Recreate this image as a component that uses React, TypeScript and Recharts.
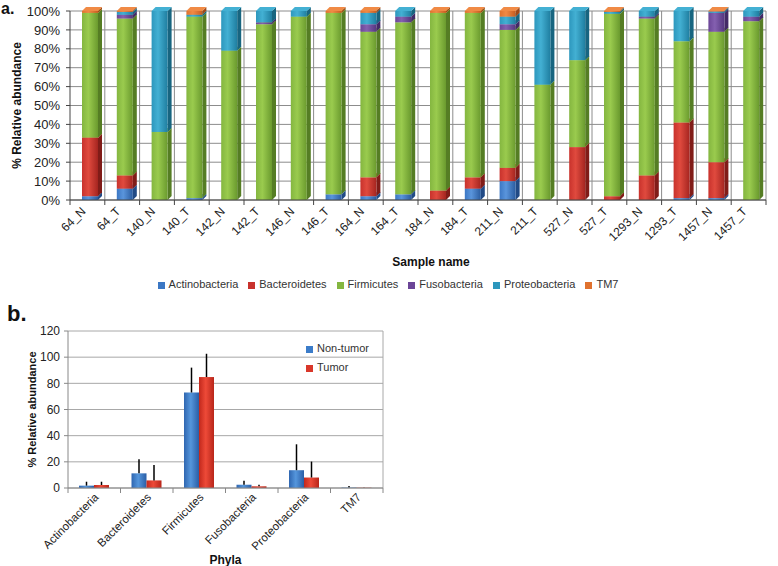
import React from "react";
import {
  Bar,
  BarChart,
  CartesianGrid,
  ErrorBar,
  Legend,
  XAxis,
  YAxis,
} from "recharts";

// ---- panel a: per-sample relative abundance (%) ----
const samples = [
  "64_N", "64_T", "140_N", "140_T", "142_N", "142_T", "146_N", "146_T", "164_N", "164_T",
  "184_N", "184_T", "211_N", "211_T", "527_N", "527_T", "1293_N", "1293_T", "1457_N", "1457_T",
];
const actinobacteria = [2, 6, 0, 1, 0, 0, 0, 3, 2, 3, 0, 6, 10, 0, 0, 0, 0, 1, 1, 0];
const bacteroidetes = [31, 7, 0, 0, 0, 0, 0, 0, 10, 0, 5, 6, 7, 0, 28, 2, 13, 40, 19, 0];
const firmicutes = [66, 83, 36, 96, 79, 93, 97, 96, 77, 91, 94, 87, 73, 61, 46, 96.5, 83, 43, 69, 94.6];
const fusobacteria = [0, 2, 0, 0, 0, 1, 0, 0, 4, 3, 0, 0, 3, 0, 0, 0, 1, 0, 10, 2.4];
const proteobacteria = [0, 1.5, 64, 1, 21, 6, 3, 0, 6, 3, 0, 0, 4, 39, 26, 1, 3, 16, 0.7, 3];
const tm7 = [1, 0.5, 0, 2, 0, 0, 0, 1, 1, 0, 1, 1, 3, 0, 0, 0.5, 0, 0, 0.3, 0];
const percentTicks = [0, 10, 20, 30, 40, 50, 60, 70, 80, 90, 100];

// ---- panel b: mean abundance by phylum ----
const phyla = ["Actinobacteria", "Bacteroidetes", "Firmicutes", "Fusobacteria", "Proteobacteria", "TM7"];
const nonTumorMean = [1.8, 11.2, 73, 2.5, 13.6, 0.3];
const tumorMean = [2.3, 5.8, 84.8, 1.3, 8, 0.2];
const nonTumorSd = [3, 10.8, 19, 3, 19.8, 1.2];
const tumorSd = [2.5, 11.7, 17.8, 1.2, 12.2, 0.2];
const abundanceTicks = [0, 20, 40, 60, 80, 100, 120];

const FONT = "'Liberation Sans', Arial, sans-serif";

const series = [
  { key: "Actinobacteria", values: actinobacteria, base: "#3b77c4", light: "#5a95dc", dark: "#2a5ca0", side: "#214a85" },
  { key: "Bacteroidetes", values: bacteroidetes, base: "#c8322c", light: "#e04a3e", dark: "#a52520", side: "#801c18" },
  { key: "Firmicutes", values: firmicutes, base: "#84b640", light: "#9acb4e", dark: "#6a9a2e", side: "#557d24" },
  { key: "Fusobacteria", values: fusobacteria, base: "#6b4597", light: "#8460b0", dark: "#553680", side: "#432a66" },
  { key: "Proteobacteria", values: proteobacteria, base: "#2d97bd", light: "#43b0d3", dark: "#1f7ea0", side: "#186580" },
  { key: "TM7", values: tm7, base: "#e0722e", light: "#f08a45", dark: "#c85c20", side: "#a04818" },
];

const stackData = samples.map((name, i) => {
  const row: Record<string, number | string> = { name };
  series.forEach((s) => (row[s.key] = s.values[i]));
  return row;
});

const phylaData = phyla.map((name, i) => ({
  name,
  nonTumor: nonTumorMean[i],
  tumor: tumorMean[i],
  nonTumorErr: [0, nonTumorSd[i]],
  tumorErr: [0, tumorSd[i]],
}));

// layout of panel a
const A_W = 778;
const A_H = 300;
const A_MARGIN = { top: 11, right: 12, left: 8, bottom: 0 };
const A_YW = 62;
const A_BAND = (A_W - A_MARGIN.left - A_MARGIN.right - A_YW) / samples.length;

// layout of panel b
const B_W = 400;
const B_H = 266;
const B_MARGIN = { top: 31, right: 17, left: 8, bottom: 0 };
const B_YW = 60;
const B_BAND = (B_W - B_MARGIN.left - B_MARGIN.right - B_YW) / phyla.length;

const DEPTH = 4;

function Bar3D(props: any) {
  const { x, y, width, height, gradId, side, light } = props;
  if (!height || height <= 0.01) return null;
  const x0 = x + 3;
  return (
    <g>
      <polygon
        points={`${x0 + width},${y} ${x0 + width + DEPTH},${y - DEPTH} ${x0 + width + DEPTH},${y + height - DEPTH} ${x0 + width},${y + height}`}
        fill={side}
      />
      <polygon
        points={`${x0},${y} ${x0 + DEPTH},${y - DEPTH} ${x0 + width + DEPTH},${y - DEPTH} ${x0 + width},${y}`}
        fill={light}
      />
      <rect x={x0} y={y} width={width} height={height} fill={`url(#${gradId})`} />
    </g>
  );
}

function SampleTick(props: any) {
  const { x, y, payload, index } = props;
  const last = index === samples.length - 1;
  return (
    <g>
      <line x1={x - A_BAND / 2} x2={x - A_BAND / 2} y1={y} y2={y + 5} stroke="#444" />
      {last && <line x1={x + A_BAND / 2} x2={x + A_BAND / 2} y1={y} y2={y + 5} stroke="#444" />}
      <text
        transform={`translate(${x - 1},${y + 12}) rotate(-45)`}
        textAnchor="end"
        fontSize={12}
        fill="#222"
        fontFamily={FONT}
      >
        {payload.value}
      </text>
    </g>
  );
}

function PhylumTick(props: any) {
  const { x, y, payload, index } = props;
  const last = index === phyla.length - 1;
  return (
    <g>
      <line x1={x - B_BAND / 2} x2={x - B_BAND / 2} y1={y} y2={y + 5} stroke="#888" />
      {last && <line x1={x + B_BAND / 2} x2={x + B_BAND / 2} y1={y} y2={y + 5} stroke="#888" />}
      <text
        transform={`translate(${x + 5},${y + 10}) rotate(-45)`}
        textAnchor="end"
        fontSize={11.5}
        fill="#222"
        fontFamily={FONT}
      >
        {payload.value}
      </text>
    </g>
  );
}

function FlatBar(props: any) {
  const { x, y, width, height, gradId } = props;
  if (!height || height <= 0) return null;
  return <rect x={x} y={y} width={width} height={height} fill={`url(#${gradId})`} />;
}

const legendText = (value: string) => <span style={{ color: "#333" }}>{value}</span>;

export default function App() {
  return (
    <div style={{ position: "absolute", left: 0, top: 0, width: 778, height: 566, background: "#fff", fontFamily: FONT }}>
      <div style={{ position: "absolute", left: 1, top: 1, fontSize: 16, lineHeight: "16px", fontWeight: "bold", color: "#111" }}>a.</div>
      <div style={{ position: "absolute", left: 0, top: 0 }}>
        <BarChart width={A_W} height={A_H} data={stackData} margin={A_MARGIN} barSize={16}>
          <defs>
            {series.map((s) => (
              <linearGradient key={s.key} id={`ga-${s.key}`} x1="0" y1="0" x2="1" y2="0">
                <stop offset="0%" stopColor={s.base} />
                <stop offset="40%" stopColor={s.light} />
                <stop offset="100%" stopColor={s.dark} />
              </linearGradient>
            ))}
          </defs>
          <CartesianGrid
            stroke="#8c8c8c"
            verticalCoordinatesGenerator={({ offset }: any) =>
              samples.map((_, i) => offset.left + (i + 1) * (offset.width / samples.length))
            }
          />
          <XAxis
            dataKey="name"
            interval={0}
            height={A_H - 200}
            tickLine={false}
            tickSize={0}
            tickMargin={0}
            axisLine={{ stroke: "#444" }}
            tick={<SampleTick />}
            label={{
              content: ({ viewBox }: any) => (
                <text
                  x={viewBox.x + viewBox.width / 2 + 13}
                  y={266}
                  textAnchor="middle"
                  fontSize={12}
                  fontWeight="bold"
                  fill="#111"
                  fontFamily={FONT}
                >
                  Sample name
                </text>
              ),
            }}
          />
          <YAxis
            width={A_YW}
            domain={[0, 100]}
            ticks={percentTicks}
            interval={0}
            tickFormatter={(v: number) => `${v}%`}
            tick={{ fontSize: 13, fill: "#222", fontFamily: FONT }}
            tickSize={4}
            tickMargin={6}
            axisLine={{ stroke: "#444" }}
            tickLine={{ stroke: "#444" }}
            label={{
              content: ({ viewBox }: any) => (
                <text
                  transform={`translate(21,${viewBox.y + viewBox.height / 2}) rotate(-90)`}
                  textAnchor="middle"
                  fontSize={12}
                  fontWeight="bold"
                  fill="#111"
                  fontFamily={FONT}
                >
                  % Relative abundance
                </text>
              ),
            }}
          />
          <Legend
            layout="horizontal"
            verticalAlign="middle"
            align="center"
            iconType="square"
            iconSize={7}
            formatter={legendText}
            wrapperStyle={{ top: 278, left: 4, width: A_W, fontSize: 11, fontFamily: FONT }}
          />
          {series.map((s) => (
            <Bar
              key={s.key}
              dataKey={s.key}
              stackId="a"
              fill={s.base}
              isAnimationActive={false}
              shape={(p: any) => <Bar3D {...p} gradId={`ga-${s.key}`} side={s.side} light={s.light} />}
            />
          ))}
        </BarChart>
      </div>

      <div style={{ position: "absolute", left: 7, top: 301, fontSize: 22, fontWeight: "bold", color: "#111" }}>b.</div>
      <div style={{ position: "absolute", left: 0, top: 300 }}>
        <BarChart width={B_W} height={B_H} data={phylaData} margin={B_MARGIN} barSize={15} barGap={0}>
          <defs>
            <linearGradient id="gb-nt" x1="0" y1="0" x2="1" y2="0">
              <stop offset="0%" stopColor="#2f66b0" />
              <stop offset="45%" stopColor="#5596dc" />
              <stop offset="100%" stopColor="#2a5ea6" />
            </linearGradient>
            <linearGradient id="gb-t" x1="0" y1="0" x2="1" y2="0">
              <stop offset="0%" stopColor="#c2281c" />
              <stop offset="45%" stopColor="#ee4a38" />
              <stop offset="100%" stopColor="#b8261a" />
            </linearGradient>
          </defs>
          <CartesianGrid
            stroke="#a8a8a8"
            verticalCoordinatesGenerator={({ offset }: any) => [offset.left + offset.width]}
          />
          <XAxis
            dataKey="name"
            interval={0}
            height={B_H - 188}
            tickLine={false}
            tickSize={0}
            tickMargin={0}
            axisLine={{ stroke: "#888" }}
            tick={<PhylumTick />}
            label={{
              content: ({ viewBox }: any) => (
                <text
                  x={viewBox.x + viewBox.width / 2}
                  y={264}
                  textAnchor="middle"
                  fontSize={12}
                  fontWeight="bold"
                  fill="#111"
                  fontFamily={FONT}
                >
                  Phyla
                </text>
              ),
            }}
          />
          <YAxis
            width={B_YW}
            domain={[0, 120]}
            ticks={abundanceTicks}
            interval={0}
            tick={{ fontSize: 12, fill: "#222", fontFamily: FONT }}
            tickSize={4}
            tickMargin={4}
            axisLine={{ stroke: "#888" }}
            tickLine={{ stroke: "#888" }}
            label={{
              content: ({ viewBox }: any) => (
                <text
                  transform={`translate(36,${viewBox.y + viewBox.height / 2}) rotate(-90)`}
                  textAnchor="middle"
                  fontSize={11}
                  fontWeight="bold"
                  fill="#111"
                  fontFamily={FONT}
                >
                  % Relative abundance
                </text>
              ),
            }}
          />
          <Legend
            layout="vertical"
            verticalAlign="middle"
            align="center"
            iconType="square"
            iconSize={7}
            formatter={legendText}
            wrapperStyle={{ top: 39, left: 306, width: 80, fontSize: 11, lineHeight: "19px", fontFamily: FONT }}
          />
          <Bar
            dataKey="nonTumor"
            name="Non-tumor"
            fill="#3b7cc9"
            isAnimationActive={false}
            shape={(p: any) => <FlatBar {...p} gradId="gb-nt" />}
          >
            <ErrorBar dataKey="nonTumorErr" width={0} stroke="#000" strokeWidth={1.5} direction="y" />
          </Bar>
          <Bar
            dataKey="tumor"
            name="Tumor"
            fill="#d9372a"
            isAnimationActive={false}
            shape={(p: any) => <FlatBar {...p} gradId="gb-t" />}
          >
            <ErrorBar dataKey="tumorErr" width={0} stroke="#000" strokeWidth={1.5} direction="y" />
          </Bar>
        </BarChart>
      </div>
    </div>
  );
}
